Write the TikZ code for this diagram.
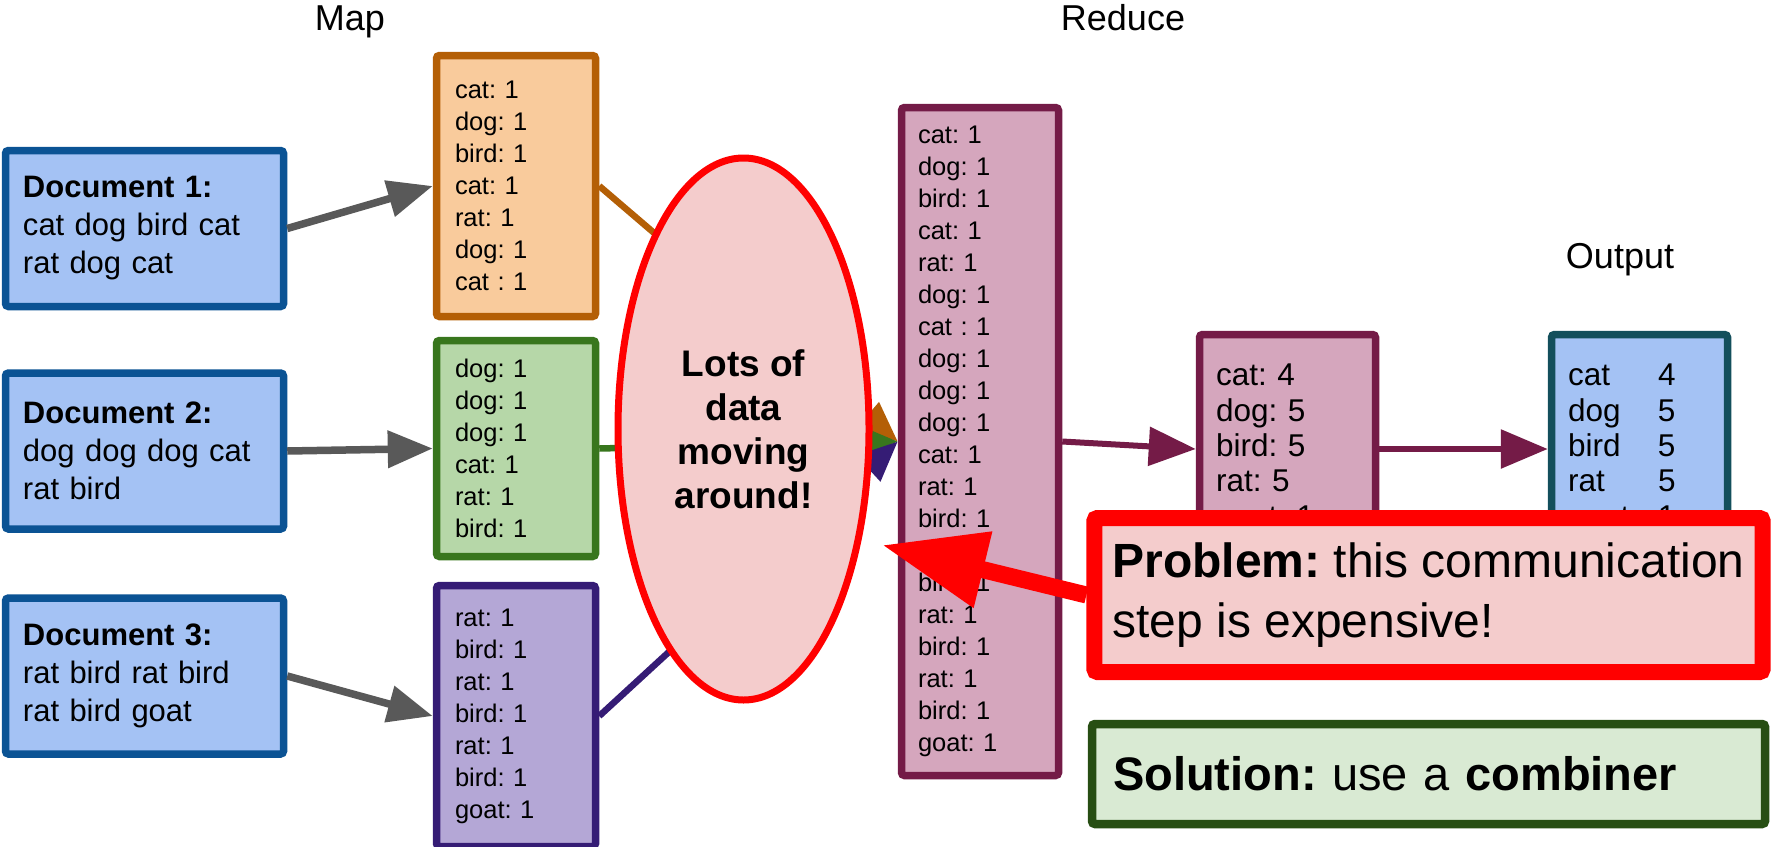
\documentclass[tikz,border=0pt]{standalone}
\usepackage{fontspec}
\setmainfont{Liberation Sans}
\usetikzlibrary{arrows.meta,shapes.geometric}
\definecolor{docfill}{HTML}{A4C2F4}
\definecolor{docline}{HTML}{0B5394}
\definecolor{orfill}{HTML}{F9CB9C}
\definecolor{orline}{HTML}{B45F06}
\definecolor{grfill}{HTML}{B6D7A8}
\definecolor{grline}{HTML}{38761D}
\definecolor{pufill}{HTML}{B4A7D6}
\definecolor{puline}{HTML}{351C75}
\definecolor{redfill}{HTML}{D5A6BD}
\definecolor{redline}{HTML}{741B47}
\definecolor{outcol}{HTML}{134F5C}
\definecolor{pinkfill}{HTML}{F4CCCC}
\definecolor{solfill}{HTML}{D9EAD3}
\definecolor{solline}{HTML}{274E13}
\definecolor{arrgray}{HTML}{595959}
\tikzset{
  box/.style={draw, rounded corners=3pt, line width=7.5pt, align=left, inner ysep=0pt},
  doc/.style={box, draw=docline, fill=docfill, text width=243pt, inner xsep=17.5pt,
    minimum height=156pt, font=\fontsize{31}{38}\selectfont},
  mapbox/.style={box, text width=122pt, inner xsep=18.5pt, font=\fontsize{25.5}{32}\selectfont},
  sumbox/.style={box, text width=143pt, inner xsep=16.5pt, minimum height=229pt,
    font=\fontsize{31.5}{35.4}\selectfont},
  title/.style={anchor=base, font=\fontsize{36}{40}\selectfont},
  grayarrow/.style={line width=7.5pt, arrgray, -{Triangle[length=45pt,width=36pt]}},
  maroonarrow/.style={line width=6pt, redline, -{Triangle[length=47pt,width=38pt]}}
}
\frenchspacing
\begin{document}
\begin{tikzpicture}[x=1pt,y=-1pt]
  \useasboundingbox (0,0) rectangle (1771,846);
  % headings
  \node[title] (maplbl) at (350,30) {Map};
  \node[title] (redlbl) at (1123,30) {Reduce};
  \node[title] (outlbl) at (1620,268) {Output};
  % input documents
  \node[doc] (doc1) at (144.5,228.5) {\textbf{Document 1:}\\cat dog bird cat\\rat dog cat};
  \node[doc] (doc2) at (144.5,451) {\textbf{Document 2:}\\dog dog dog cat\\rat bird};
  \node[doc] (doc3) at (144.5,676) {\textbf{Document 3:}\\rat bird rat bird\\rat bird goat};
  % map outputs
  \node[mapbox, draw=orline, fill=orfill, minimum height=261pt] (map1) at (516,186)
    {cat: 1\\dog: 1\\bird: 1\\cat: 1\\rat: 1\\dog: 1\\cat : 1};
  \node[mapbox, draw=grline, fill=grfill, minimum height=216pt] (map2) at (516,448.5)
    {dog: 1\\dog: 1\\dog: 1\\cat: 1\\rat: 1\\bird: 1};
  \node[mapbox, draw=puline, fill=pufill, minimum height=261pt] (map3) at (516,716)
    {rat: 1\\bird: 1\\rat: 1\\bird: 1\\rat: 1\\bird: 1\\goat: 1};
  % reduce input
  \node[mapbox, draw=redline, fill=redfill, text width=124pt, inner xsep=16.5pt,
    minimum height=668pt] (reduce) at (980,441.5)
    {cat: 1\\dog: 1\\bird: 1\\cat: 1\\rat: 1\\dog: 1\\cat : 1\\dog: 1\\dog: 1\\dog: 1\\cat: 1\\rat: 1\\bird: 1\\rat: 1\\bird: 1\\rat: 1\\bird: 1\\rat: 1\\bird: 1\\goat: 1};
  \node[sumbox, draw=redline, fill=redfill] (counts) at (1287.5,449)
    {cat: 4\\dog: 5\\bird: 5\\rat: 5\\goat: 1};
  \node[sumbox, draw=outcol, fill=docfill] (result) at (1639.5,449)
    {\makebox[90pt][l]{cat}4\\\makebox[90pt][l]{dog}5\\\makebox[90pt][l]{bird}5\\\makebox[90pt][l]{rat}5\\\makebox[90pt][l]{goat}1};
  % shuffle
  \foreach \i/\c in {1/orline,2/grline,3/puline}
    \draw[line width=6.5pt, \c, -{Triangle[length=40pt,width=34pt]}] (map\i.east) -- (reduce.west);
  \node[ellipse, draw=red, line width=7pt, fill=pinkfill, minimum width=251pt, minimum height=542pt,
    inner sep=0pt, align=center, font=\bfseries\fontsize{37}{44}\selectfont] (cloud) at (743.5,429)
    {Lots of\\data\\moving\\around!};
  \foreach \i in {1,2,3}
    \draw[grayarrow] (doc\i.east) -- (map\i.west);
  \draw[maroonarrow] (reduce.east) -- (counts.west);
  \draw[maroonarrow] (counts.east) -- (result.west);
  % notes
  \node[box, draw=red, line width=16pt, fill=pinkfill, inner xsep=18pt, minimum width=665pt,
    minimum height=154pt, font=\fontsize{48}{60}\selectfont] (prob) at (1428.5,595)
    {\textbf{Problem:} this communication\\step is expensive!};
  \node[box, draw=solline, line width=8.5pt, fill=solfill, text width=631pt, inner xsep=21pt,
    minimum height=100pt, font=\fontsize{47}{60}\selectfont] (sol) at (1428.5,774)
    {\textbf{Solution:} use a \textbf{combiner}};
  \coordinate (hit) at (882,545);
  \draw[line width=17pt, red, -{Triangle[length=104pt,width=74pt]}] (prob.west) -- (hit);
\end{tikzpicture}
\end{document}
